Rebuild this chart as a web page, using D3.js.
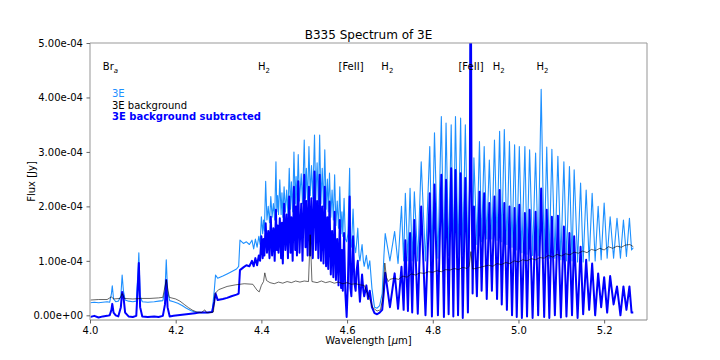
<!DOCTYPE html>
<html><head><meta charset="utf-8">
<script src="https://cdn.jsdelivr.net/npm/d3@7"></script>
<style>body{margin:0;background:#fff}svg{display:block;font-family:"DejaVu Sans",sans-serif}</style>
</head><body><div id="chart"></div>
<script>
// Flux values are in units of 1e-4 Jy
const FLUX_UNIT = 1e-4;

const wavelength = [
 4.000,4.010,4.020,4.030,4.040,4.046,4.050,4.052,4.055,4.060,
 4.066,4.072,4.075,4.078,4.082,4.090,4.100,4.108,4.112,4.114,
 4.117,4.122,4.135,4.150,4.160,4.170,4.175,4.178,4.181,4.186,
 4.195,4.205,4.215,4.225,4.235,4.245,4.255,4.265,4.275,4.285,
 4.290,4.293,4.298,4.310,4.320,4.330,4.342,4.347,4.350,4.358,
 4.365,4.372,4.378,4.382,4.386,4.390,4.394,4.397,
 4.400,4.403,4.405,4.407,4.410,4.413,4.416,4.419,4.422,4.425,
 4.428,4.431,4.434,4.436,4.438,4.440,4.443,4.446,4.448,4.450,
 4.453,4.456,4.459,4.462,4.465,4.468,4.470,4.473,4.476,4.479,
 4.481,4.483,4.486,4.489,4.493,4.496,4.500,4.503,4.505,4.508,
 4.511,4.514,4.517,4.520,4.524,4.527,4.530,4.533,4.536,4.539,
 4.542,4.545,4.548,4.551,4.554,4.556,4.559,4.562,4.565,4.568,
 4.571,4.574,4.577,4.580,4.583,4.586,4.588,4.590,4.593,4.596,
 4.599,4.602,4.606,4.608,4.610,4.614,4.617,4.620,4.622,4.625,
 4.628,4.630,4.635,4.638,4.640,4.645,4.649,4.653,4.658,4.664,
 4.670,4.676,4.682,4.686,4.689,
 4.700,4.711,4.719,4.727,4.732,4.736,4.742,4.747,4.752,4.757,
 4.765,4.773,4.783,4.793,4.798,4.804,4.812,4.820,4.826,4.831,
 4.837,4.843,4.848,4.853,4.859,4.865,4.870,4.876,4.882,4.8865,
 4.8885,4.8905,4.893,4.896,4.903,4.909,4.914,4.920,4.926,4.932,
 4.938,4.944,4.950,4.956,4.961,4.967,4.973,4.979,4.985,4.991,
 4.996,5.002,5.008,5.015,5.020,5.026,5.033,5.040,5.046,5.053,
 5.060,5.066,5.072,5.078,5.085,5.092,5.099,5.106,5.112,5.119,
 5.125,5.130,5.138,5.145,5.151,5.158,5.165,5.172,5.179,5.186,
 5.193,5.200,5.207,5.214,5.222,5.230,5.238,5.245,5.252,5.259,
 5.264,5.268
];

const flux3E = [
 0.23,0.24,0.23,0.24,0.25,0.24,0.40,0.54,0.30,0.25,
 0.26,0.35,0.74,0.45,0.28,0.26,0.25,0.26,0.80,1.15,
 0.35,0.25,0.24,0.25,0.26,0.27,0.45,1.02,0.45,0.27,
 0.25,0.22,0.18,0.13,0.09,0.06,0.05,0.05,0.05,0.06,
 0.45,0.74,0.68,0.72,0.76,0.80,0.85,0.90,1.38,1.32,
 1.35,1.30,1.38,1.22,1.40,1.25,1.45,1.30,
 1.81,1.50,1.75,1.55,2.46,1.75,2.00,1.70,2.18,1.80,
 2.05,1.75,2.82,1.90,2.20,1.85,2.49,1.85,2.25,1.80,
 2.36,1.90,2.30,1.85,2.70,1.95,2.45,1.90,3.00,2.05,
 2.55,2.00,2.95,2.10,2.60,2.05,3.22,2.15,2.70,2.10,
 3.10,2.20,2.75,2.15,3.31,2.10,2.80,2.05,3.31,2.05,
 2.70,2.00,3.04,1.95,2.50,1.90,2.61,1.80,2.30,1.75,
 2.58,1.65,2.10,1.60,2.36,1.50,1.90,1.45,2.15,1.40,
 1.35,1.50,2.70,1.40,1.25,1.95,1.30,1.15,1.30,1.60,
 1.10,1.00,1.30,1.00,0.90,1.10,0.85,1.00,0.50,0.15,
 0.13,0.18,0.40,1.10,1.50,
 1.00,1.54,0.95,2.00,1.00,2.24,1.00,2.33,1.00,2.27,
 1.00,2.82,1.00,3.10,1.05,3.35,1.05,3.65,1.08,3.53,
 1.10,3.50,1.10,3.65,1.12,3.62,1.12,3.50,1.15,2.50,
 7.00,2.50,1.20,2.89,1.30,3.19,1.35,3.10,1.40,2.85,
 1.40,3.22,1.38,3.38,1.35,3.41,1.30,3.19,1.25,3.13,
 1.20,3.10,1.15,3.10,1.12,3.04,1.10,2.98,1.10,4.15,
 1.08,3.09,1.05,3.05,1.05,2.92,1.02,2.82,1.00,2.73,
 1.00,2.67,0.98,2.43,0.98,2.30,1.00,2.24,1.00,2.00,
 1.02,2.06,1.05,1.81,1.05,1.78,1.05,1.75,1.08,1.78,
 1.20,1.24
];

const fluxSub = [
 -0.03,-0.01,-0.04,-0.02,-0.01,0.00,0.10,0.21,0.05,0.00,
 -0.02,0.15,0.43,0.35,0.05,-0.02,-0.03,-0.01,0.60,0.96,
 0.15,-0.02,-0.03,-0.02,-0.03,-0.01,0.20,0.65,0.15,-0.02,
 -0.01,0.00,0.01,0.02,0.03,0.04,0.05,0.05,0.05,0.06,
 0.25,0.40,0.28,0.30,0.32,0.35,0.38,0.40,0.83,0.88,
 0.92,0.90,1.00,0.90,1.05,0.92,1.10,1.00,
 1.45,1.05,1.40,1.10,1.69,1.15,1.55,1.05,1.81,1.10,
 1.60,1.00,1.94,1.20,1.65,1.15,1.78,1.05,1.70,0.95,
 2.05,1.20,1.85,1.05,2.18,1.15,1.80,1.00,2.36,1.20,
 2.00,1.10,2.46,1.15,2.05,1.00,2.58,1.25,2.10,1.10,
 2.36,1.10,2.15,1.05,2.64,1.20,2.10,1.05,2.58,1.00,
 2.00,0.95,2.36,0.90,1.80,0.85,2.09,0.75,1.55,0.70,
 1.90,0.65,1.40,0.55,1.75,0.50,1.20,0.45,1.51,0.40,
 -0.03,0.60,2.18,0.50,0.35,1.45,0.60,0.45,0.80,1.00,
 0.50,0.25,0.75,0.45,0.35,0.55,0.30,0.45,0.15,0.04,
 0.02,0.05,0.10,0.45,0.78,
 0.15,0.77,0.12,0.89,0.10,1.38,0.08,1.51,0.05,1.75,
 0.03,2.00,0.00,2.24,-0.02,2.40,0.00,2.58,-0.03,2.49,
 0.02,2.70,-0.02,2.67,0.00,2.61,-0.05,2.52,0.05,2.50,
 7.00,2.50,0.40,2.00,0.35,2.27,0.45,2.24,0.30,2.06,
 0.45,2.18,0.30,2.30,0.20,2.06,0.10,2.00,0.00,1.97,
 -0.03,2.03,-0.05,1.88,-0.02,1.94,-0.05,1.90,0.00,2.33,
 -0.03,1.94,-0.05,1.81,0.00,1.83,-0.04,1.63,-0.02,1.51,
 0.00,1.45,-0.05,1.26,0.02,1.02,0.10,0.95,0.00,0.77,
 0.15,0.70,0.05,0.72,0.20,0.53,0.00,0.53,0.10,0.53,
 0.05,0.05
];

const bgWavelength = [
 4.000,4.020,4.040,4.050,4.055,4.070,4.075,4.080,4.100,4.120,
 4.140,4.160,4.170,4.178,4.185,4.200,4.210,4.220,4.230,4.240,
 4.250,4.260,4.268,4.272,4.280,4.288,4.292,4.300,4.320,4.340,
 4.360,4.380,4.390,4.395,4.400,4.405,4.408,4.412,4.420,4.430,
 4.440,4.450,4.460,4.470,4.480,4.490,4.500,4.510,4.514,4.518,
 4.530,4.540,4.550,4.560,4.570,4.580,4.590,4.600,4.610,4.620,
 4.630,4.640,4.645,4.650,4.655,4.660,4.670,4.678,4.684,4.688,
 4.692,4.696,4.700,4.710,4.720,4.730,4.740,4.750,4.760,4.770,
 4.780,4.790,4.800,4.810,4.820,4.830,4.840,4.850,4.860,4.870,
 4.880,4.885,4.889,4.893,4.900,4.910,4.920,4.930,4.940,4.950,
 4.960,4.970,4.980,4.990,5.000,5.010,5.020,5.030,5.040,5.050,
 5.060,5.070,5.080,5.090,5.100,5.110,5.120,5.130,5.140,5.150,
 5.160,5.170,5.180,5.190,5.200,5.210,5.220,5.230,5.240,5.250,
 5.260,5.268
];
const fluxBg = [
 0.28,0.29,0.29,0.34,0.30,0.31,0.40,0.31,0.30,0.31,
 0.31,0.32,0.33,0.65,0.33,0.30,0.26,0.20,0.14,0.09,
 0.06,0.05,0.10,0.05,0.05,0.06,0.40,0.47,0.53,0.56,
 0.58,0.57,0.46,0.43,0.55,0.62,0.78,0.64,0.60,0.58,
 0.61,0.59,0.62,0.60,0.63,0.61,0.63,0.62,1.48,0.62,
 0.60,0.63,0.60,0.62,0.59,0.61,0.58,0.60,0.57,0.58,
 0.56,0.55,0.45,0.35,0.25,0.14,0.08,0.10,0.35,0.96,
 0.70,0.62,0.66,0.68,0.66,0.72,0.70,0.76,0.74,0.78,
 0.77,0.80,0.79,0.82,0.80,0.84,0.83,0.86,0.84,0.88,
 0.86,0.90,1.17,0.85,0.86,0.88,0.90,0.92,0.90,0.95,
 0.93,0.97,0.95,1.00,0.98,1.02,1.00,1.04,1.02,1.06,
 1.05,1.10,1.07,1.12,1.09,1.13,1.11,1.16,1.14,1.18,
 1.15,1.21,1.19,1.23,1.20,1.26,1.23,1.27,1.25,1.29,
 1.30,1.26
];

const lineLabels = ["Br", "H", "[FeII]", "H", "[FeII]", "H", "H"];
const lineSubs   = ["a", "2", "", "2", "", "2", "2"];
const labelWavelength = [4.030, 4.392, 4.580, 4.680, 4.860, 4.940, 5.042];
const labelFlux = 4.5;

const xTicks = [4.0, 4.2, 4.4, 4.6, 4.8, 5.0, 5.2];
const yTicks = [0, 1, 2, 3, 4, 5];

const seriesNames = ["3E", "3E background", "3E background subtracted"];
const seriesColors = ["#1e90ff", "#000000", "#0000ff"];

const W = 720, H = 360;
const m = {left: 90, right: 647, top: 43, bottom: 320};

const svg = d3.select("#chart").append("svg").attr("width", W).attr("height", H);

const x = d3.scaleLinear().domain([4.0, 5.3]).range([m.left, m.right]);
const y = d3.scaleLinear().domain([-0.086e-4, 5e-4]).range([m.bottom, m.top]);

svg.append("defs").append("clipPath").attr("id", "clip")
  .append("rect").attr("x", m.left).attr("y", m.top)
  .attr("width", m.right - m.left).attr("height", m.bottom - m.top);

const g = svg.append("g").attr("clip-path", "url(#clip)");

const mainPts = wavelength.map((w, i) => ({w, a: flux3E[i] * FLUX_UNIT, s: fluxSub[i] * FLUX_UNIT}));
const bgPts = bgWavelength.map((w, i) => ({w, v: fluxBg[i] * FLUX_UNIT}));

g.append("path").datum(mainPts)
  .attr("fill", "none").attr("stroke", seriesColors[0]).attr("stroke-width", 1.1)
  .attr("stroke-linejoin", "round")
  .attr("d", d3.line().x(d => x(d.w)).y(d => y(d.a)));

g.append("path").datum(mainPts)
  .attr("fill", "none").attr("stroke", seriesColors[2]).attr("stroke-width", 2)
  .attr("stroke-linejoin", "round")
  .attr("d", d3.line().x(d => x(d.w)).y(d => y(d.s)));

g.append("path").datum(bgPts)
  .attr("fill", "none").attr("stroke", seriesColors[1]).attr("stroke-width", 0.8)
  .attr("stroke-opacity", 0.75)
  .attr("d", d3.line().x(d => x(d.w)).y(d => y(d.v)));

// spines
svg.append("line").attr("x1", m.left).attr("x2", m.left).attr("y1", m.top).attr("y2", m.bottom)
  .attr("stroke", "#bdbdbd").attr("stroke-width", 1.6);
svg.append("line").attr("x1", m.right).attr("x2", m.right).attr("y1", m.top).attr("y2", m.bottom)
  .attr("stroke", "#bdbdbd").attr("stroke-width", 1.6);
svg.append("line").attr("x1", m.left).attr("x2", m.right).attr("y1", m.top).attr("y2", m.top)
  .attr("stroke", "#999").attr("stroke-width", 1.2);
svg.append("line").attr("x1", m.left).attr("x2", m.right).attr("y1", m.bottom).attr("y2", m.bottom)
  .attr("stroke", "#888").attr("stroke-width", 1.2);

function expFmt(v) {
  let s = v.toExponential(2);
  return s.replace(/e([+-])(\d)$/, "e$10$2");
}

const xAxis = d3.axisBottom(x).tickValues(xTicks).tickFormat(d3.format(".1f")).tickSize(3.5).tickPadding(3);
const gx = svg.append("g").attr("transform", `translate(0,${m.bottom})`).call(xAxis);
gx.select(".domain").remove();
gx.selectAll("line").attr("stroke", "#666");
gx.selectAll("text").attr("font-size", 10).attr("fill", "#000").attr("font-family", "DejaVu Sans");

const yAxis = d3.axisLeft(y).tickValues(yTicks.map(v => v * FLUX_UNIT)).tickFormat(expFmt).tickSize(3.5).tickPadding(3.5);
const gy = svg.append("g").attr("transform", `translate(${m.left},0)`).call(yAxis);
gy.select(".domain").remove();
gy.selectAll("line").attr("stroke", "#666");
gy.selectAll("text").attr("font-size", 10).attr("fill", "#000").attr("font-family", "DejaVu Sans");

// title and axis labels
svg.append("text").attr("x", (m.left + m.right) / 2).attr("y", 39).attr("text-anchor", "middle")
  .attr("font-size", 12).text("B335 Spectrum of 3E");

const xl = svg.append("text").attr("x", (m.left + m.right) / 2).attr("y", 344).attr("text-anchor", "middle")
  .attr("font-size", 10);
xl.append("tspan").text("Wavelength [");
xl.append("tspan").attr("font-style", "italic").text("μ");
xl.append("tspan").text("m]");

svg.append("text").attr("transform", `translate(35,${(m.top + m.bottom) / 2}) rotate(-90)`)
  .attr("text-anchor", "middle").attr("font-size", 10).text("Flux [Jy]");

// line labels
lineLabels.forEach((lab, i) => {
  const t = svg.append("text").attr("x", x(labelWavelength[i])).attr("y", y(labelFlux * FLUX_UNIT))
    .attr("font-size", 10);
  t.append("tspan").text(lab);
  if (lineSubs[i]) {
    t.append("tspan").attr("font-size", 7).attr("dy", 2.5)
      .attr("font-style", lineSubs[i] === "a" ? "italic" : "normal").text(lineSubs[i]);
  }
});

// legend (text only)
const legY = [97, 108.5, 120];
seriesNames.forEach((n, i) => {
  svg.append("text").attr("x", 112).attr("y", legY[i]).attr("font-size", 10)
    .attr("fill", seriesColors[i]).attr("font-weight", i === 2 ? "bold" : "normal").text(n);
});
</script></body></html>
